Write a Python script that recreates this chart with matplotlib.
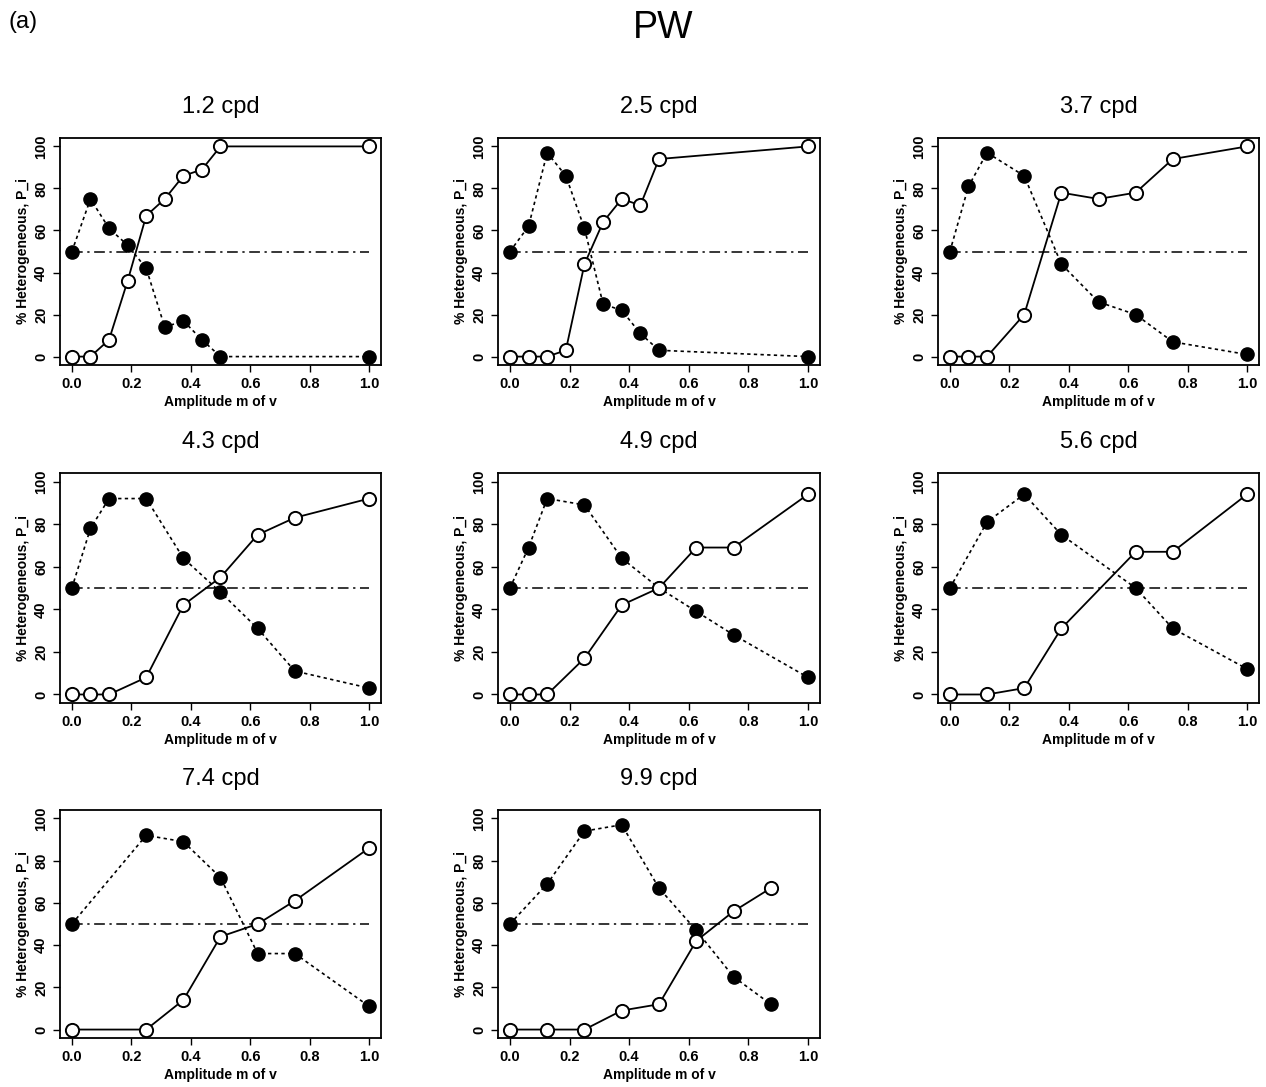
import matplotlib
matplotlib.use("Agg")
import matplotlib.pyplot as plt
import numpy as np

plt.rcParams['font.family'] = ['Liberation Sans', 'DejaVu Sans']

titles = ["1.2 cpd", "2.5 cpd", "3.7 cpd", "4.3 cpd", "4.9 cpd", "5.6 cpd", "7.4 cpd", "9.9 cpd"]

amp = [
    [0, 0.0625, 0.125, 0.1875, 0.25, 0.3125, 0.375, 0.4375, 0.5, 1.0],
    [0, 0.0625, 0.125, 0.1875, 0.25, 0.3125, 0.375, 0.4375, 0.5, 1.0],
    [0, 0.0625, 0.125, 0.25, 0.375, 0.5, 0.625, 0.75, 1.0],
    [0, 0.0625, 0.125, 0.25, 0.375, 0.5, 0.625, 0.75, 1.0],
    [0, 0.0625, 0.125, 0.25, 0.375, 0.5, 0.625, 0.75, 1.0],
    [0, 0.125, 0.25, 0.375, 0.625, 0.75, 1.0],
    [0, 0.25, 0.375, 0.5, 0.625, 0.75, 1.0],
    [0, 0.125, 0.25, 0.375, 0.5, 0.625, 0.75, 0.875],
]

# open circles, solid line
open_vals = [
    [0, 0, 8, 36, 67, 75, 86, 89, 100, 100],
    [0, 0, 0, 3, 44, 64, 75, 72, 94, 100],
    [0, 0, 0, 20, 78, 75, 78, 94, 100],
    [0, 0, 0, 8, 42, 55, 75, 83, 92],
    [0, 0, 0, 17, 42, 50, 69, 69, 94],
    [0, 0, 3, 31, 67, 67, 94],
    [0, 0, 14, 44, 50, 61, 86],
    [0, 0, 0, 9, 12, 42, 56, 67],
]

# filled circles, dotted line
filled_vals = [
    [50, 75, 61, 53, 42, 14, 17, 8, 0, 0],
    [50, 62, 97, 86, 61, 25, 22, 11, 3, 0],
    [50, 81, 97, 86, 44, 26, 20, 7, 1],
    [50, 78, 92, 92, 64, 48, 31, 11, 3],
    [50, 69, 92, 89, 64, 50, 39, 28, 8],
    [50, 81, 94, 75, 50, 31, 12],
    [50, 92, 89, 72, 36, 36, 11],
    [50, 69, 94, 97, 67, 47, 25, 12],
]

W, H = 1266, 1087
fig = plt.figure(figsize=(W / 100, H / 100), dpi=100)

col_lr = [(60, 381), (498, 820), (938, 1259)]
row_tb = [(138, 365), (473, 703), (810, 1038)]

for i, t in enumerate(titles):
    r, c = divmod(i, 3)
    l, rr = col_lr[c]
    tp, bt = row_tb[r]
    ax = fig.add_axes([l / W, 1 - bt / H, (rr - l) / W, (bt - tp) / H])
    ax.plot([0, 1], [50, 50], color='black', lw=1.1, dashes=[7, 3, 1.5, 3])
    ax.plot(amp[i], filled_vals[i], color='black', lw=1.2, linestyle=(0, (2, 2)),
            marker='o', markersize=9.5, markerfacecolor='black', markeredgecolor='black')
    ax.plot(amp[i], open_vals[i], color='black', lw=1.3, linestyle='-',
            marker='o', markersize=9.5, markerfacecolor='white', markeredgecolor='black',
            markeredgewidth=1.4)
    ax.set_xlim(-0.04, 1.04)
    ax.set_ylim(-4, 104)
    ax.set_xticks(np.arange(0, 1.01, 0.2))
    ax.set_xticklabels(["0.0", "0.2", "0.4", "0.6", "0.8", "1.0"], fontweight='bold', fontsize=10.5)
    ax.set_yticks(np.arange(0, 101, 20))
    ax.set_yticklabels([str(v) for v in range(0, 101, 20)], rotation=90, va='center',
                       fontweight='bold', fontsize=10.5)
    ax.tick_params(direction='out', length=5, width=1.0, color='black')
    for s in ax.spines.values():
        s.set_linewidth(1.3)
    ax.set_xlabel("Amplitude m of v", fontweight='bold', fontsize=10, labelpad=3)
    ax.set_ylabel("% Heterogeneous, P_i", fontweight='bold', fontsize=10, labelpad=3)
    ax.set_title(t, fontsize=17, pad=18)

fig.text(8 / W, 1 - 22 / H, "(a)", fontsize=17, ha='left', va='center')
fig.text(663 / W, 1 - 28 / H, "PW", fontsize=27, ha='center', va='center')

fig.savefig("out.png", dpi=100)
